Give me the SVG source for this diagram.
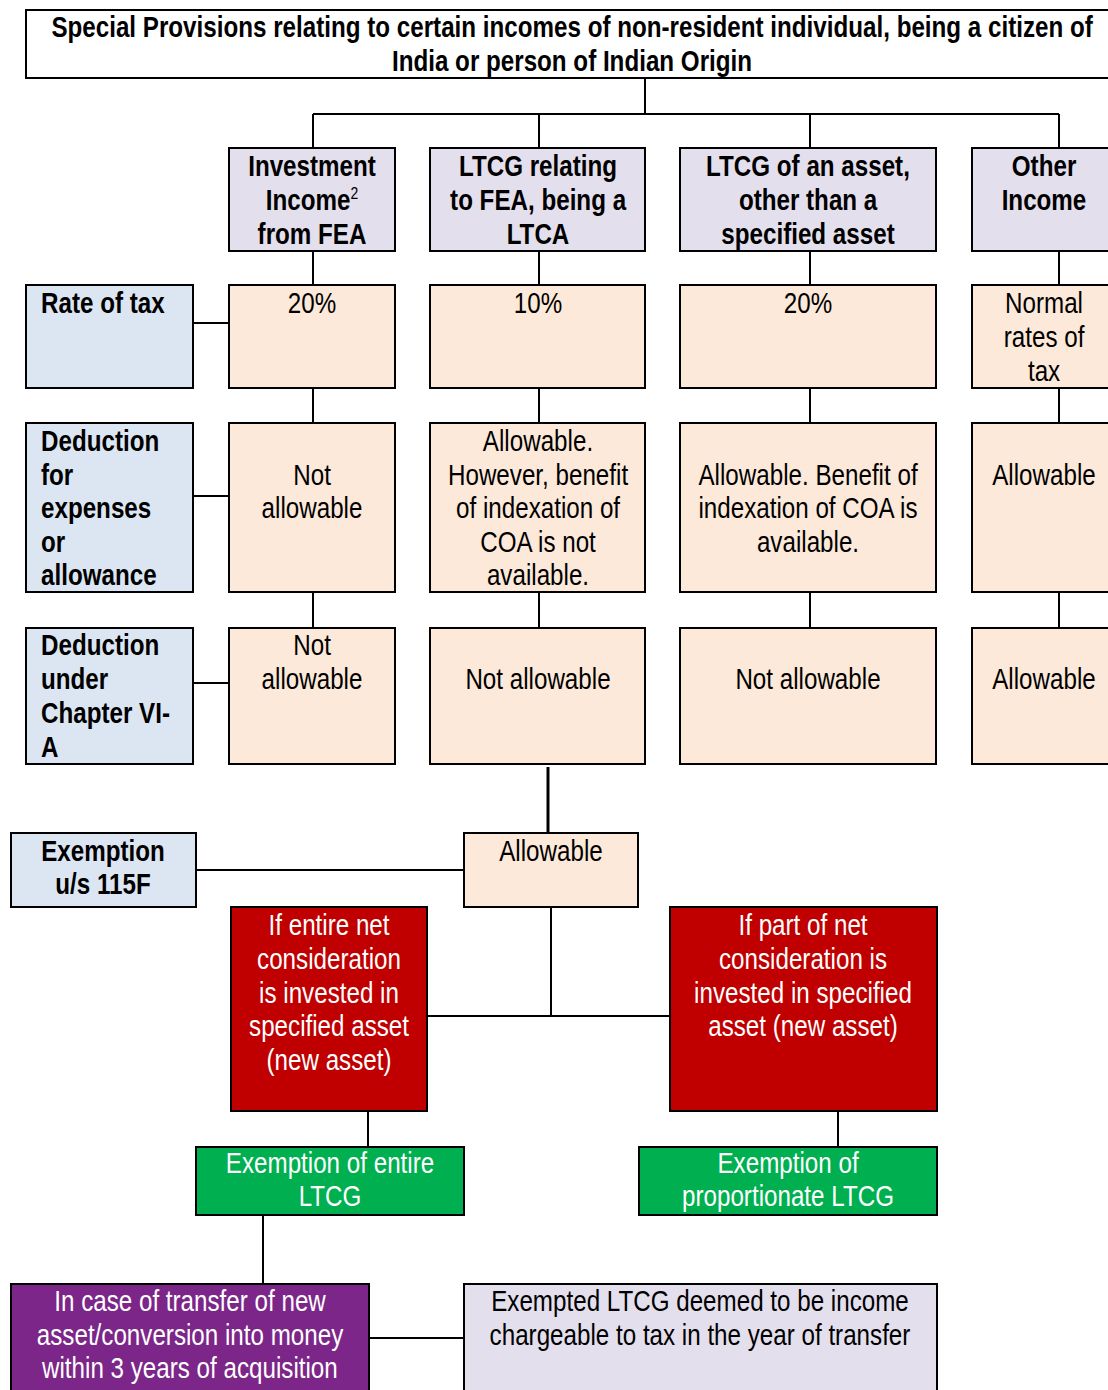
<svg xmlns="http://www.w3.org/2000/svg" width="1108" height="1390" viewBox="0 0 1108 1390">
  <style>
    /* narrow sans: Liberation Sans squeezed horizontally */
    .t { font-family: "Liberation Sans", Arial, sans-serif; font-size: 29.5px; fill: #000;
         transform: scaleX(0.82); transform-box: fill-box; transform-origin: left center; }
    .b { font-weight: bold; }
    .c { text-anchor: middle; transform-origin: center center; }
    .w { fill: #fff; }
    .box { stroke: #000; stroke-width: 2; }
    .hdr { fill: #E4DFEC; }
    .lbl { fill: #DCE6F2; }
    .val { fill: #FDE9D9; }
    .red { fill: #C00000; }
    .grn { fill: #00B050; }
    .pur { fill: #7B2688; }
    .wht { fill: #fff; }
    .ln { stroke: #000; stroke-width: 2; fill: none; }
  </style>

  <!-- connectors -->
  <g id="connectors">
    <path class="ln" d="M645 78V114M313 114H1059M313 114V148M539 114V148M810 114V148M1059 114V148"/>
    <path class="ln" d="M313 251V285M539 251V285M810 251V285M1059 251V285"/>
    <path class="ln" d="M313 388V423M539 388V423M810 388V423M1059 388V423"/>
    <path class="ln" d="M313 592V628M539 592V628M810 592V628M1059 592V628"/>
    <path class="ln" d="M193 323H229M193 496H229M193 683H229"/>
    <path class="ln" d="M548 767V833" style="stroke-width:3"/>
    <path class="ln" d="M196 870H464"/>
    <path class="ln" d="M551 907V1016M427 1016H670"/>
    <path class="ln" d="M368 1111V1147M838 1111V1147"/>
    <path class="ln" d="M263 1215V1284"/>
    <path class="ln" d="M369 1338H464"/>
  </g>

  <!-- title -->
  <g id="title">
    <rect class="box wht" x="26" y="10" width="1090" height="68"/>
    <text class="t b c" x="572" y="37">Special Provisions relating to certain incomes of non-resident individual, being a citizen of</text>
    <text class="t b c" x="572" y="71">India or person of Indian Origin</text>
  </g>

  <!-- income heads -->
  <g id="head-investment">
    <rect class="box hdr" x="229" y="148" width="166" height="103"/>
    <text class="t b c" x="312" y="176">Investment</text>
    <text class="t b c" x="312" y="210">Income<tspan style="font-weight:normal;font-size:17px" dy="-11">2</tspan></text>
    <text class="t b c" x="312" y="244">from FEA</text>
  </g>
  <g id="head-ltcg-fea">
    <rect class="box hdr" x="430" y="148" width="215" height="103"/>
    <text class="t b c" x="538" y="176">LTCG relating</text>
    <text class="t b c" x="538" y="210">to FEA, being a</text>
    <text class="t b c" x="538" y="244">LTCA</text>
  </g>
  <g id="head-ltcg-other">
    <rect class="box hdr" x="680" y="148" width="256" height="103"/>
    <text class="t b c" x="808" y="176">LTCG of an asset,</text>
    <text class="t b c" x="808" y="210">other than a</text>
    <text class="t b c" x="808" y="244">specified asset</text>
  </g>
  <g id="head-other">
    <rect class="box hdr" x="972" y="148" width="150" height="103"/>
    <text class="t b c" x="1044" y="176">Other</text>
    <text class="t b c" x="1044" y="210">Income</text>
  </g>

  <!-- row labels -->
  <g id="label-rate">
    <rect class="box lbl" x="26" y="285" width="167" height="103"/>
    <text class="t b" x="41" y="313">Rate of tax</text>
  </g>
  <g id="label-expenses">
    <rect class="box lbl" x="26" y="423" width="167" height="169"/>
    <text class="t b" x="41" y="451">Deduction</text>
    <text class="t b" x="41" y="485">for</text>
    <text class="t b" x="41" y="518">expenses</text>
    <text class="t b" x="41" y="552">or</text>
    <text class="t b" x="41" y="585">allowance</text>
  </g>
  <g id="label-via">
    <rect class="box lbl" x="26" y="628" width="167" height="136"/>
    <text class="t b" x="41" y="655">Deduction</text>
    <text class="t b" x="41" y="689">under</text>
    <text class="t b" x="41" y="723">Chapter VI-</text>
    <text class="t b" x="41" y="757">A</text>
  </g>

  <!-- rate of tax -->
  <g id="rate-investment">
    <rect class="box val" x="229" y="285" width="166" height="103"/>
    <text class="t c" x="312" y="313">20%</text>
  </g>
  <g id="rate-ltcg-fea">
    <rect class="box val" x="430" y="285" width="215" height="103"/>
    <text class="t c" x="538" y="313">10%</text>
  </g>
  <g id="rate-ltcg-other">
    <rect class="box val" x="680" y="285" width="256" height="103"/>
    <text class="t c" x="808" y="313">20%</text>
  </g>
  <g id="rate-other">
    <rect class="box val" x="972" y="285" width="150" height="103"/>
    <text class="t c" x="1044" y="313">Normal</text>
    <text class="t c" x="1044" y="347">rates of</text>
    <text class="t c" x="1044" y="381">tax</text>
  </g>

  <!-- deduction for expenses -->
  <g id="exp-investment">
    <rect class="box val" x="229" y="423" width="166" height="169"/>
    <text class="t c" x="312" y="485">Not</text>
    <text class="t c" x="312" y="518">allowable</text>
  </g>
  <g id="exp-ltcg-fea">
    <rect class="box val" x="430" y="423" width="215" height="169"/>
    <text class="t c" x="538" y="451">Allowable.</text>
    <text class="t c" x="538" y="485">However, benefit</text>
    <text class="t c" x="538" y="518">of indexation of</text>
    <text class="t c" x="538" y="552">COA is not</text>
    <text class="t c" x="538" y="585">available.</text>
  </g>
  <g id="exp-ltcg-other">
    <rect class="box val" x="680" y="423" width="256" height="169"/>
    <text class="t c" x="808" y="485">Allowable. Benefit of</text>
    <text class="t c" x="808" y="518">indexation of COA is</text>
    <text class="t c" x="808" y="552">available.</text>
  </g>
  <g id="exp-other">
    <rect class="box val" x="972" y="423" width="150" height="169"/>
    <text class="t c" x="1044" y="485">Allowable</text>
  </g>

  <!-- deduction under chapter VI-A -->
  <g id="via-investment">
    <rect class="box val" x="229" y="628" width="166" height="136"/>
    <text class="t c" x="312" y="655">Not</text>
    <text class="t c" x="312" y="689">allowable</text>
  </g>
  <g id="via-ltcg-fea">
    <rect class="box val" x="430" y="628" width="215" height="136"/>
    <text class="t c" x="538" y="689">Not allowable</text>
  </g>
  <g id="via-ltcg-other">
    <rect class="box val" x="680" y="628" width="256" height="136"/>
    <text class="t c" x="808" y="689">Not allowable</text>
  </g>
  <g id="via-other">
    <rect class="box val" x="972" y="628" width="150" height="136"/>
    <text class="t c" x="1044" y="689">Allowable</text>
  </g>

  <!-- exemption u/s 115F -->
  <g id="label-115f">
    <rect class="box lbl" x="11" y="833" width="185" height="74"/>
    <text class="t b c" x="103" y="861">Exemption</text>
    <text class="t b c" x="103" y="894">u/s 115F</text>
  </g>
  <g id="exemption-allowable">
    <rect class="box val" x="464" y="833" width="174" height="74"/>
    <text class="t c" x="551" y="861">Allowable</text>
  </g>

  <g id="entire-invested">
    <rect class="box red" x="231" y="907" width="196" height="204"/>
    <text class="t c w" x="329" y="935">If entire net</text>
    <text class="t c w" x="329" y="969">consideration</text>
    <text class="t c w" x="329" y="1003">is invested in</text>
    <text class="t c w" x="329" y="1036">specified asset</text>
    <text class="t c w" x="329" y="1070">(new asset)</text>
  </g>
  <g id="part-invested">
    <rect class="box red" x="670" y="907" width="267" height="204"/>
    <text class="t c w" x="803" y="935">If part of net</text>
    <text class="t c w" x="803" y="969">consideration is</text>
    <text class="t c w" x="803" y="1003">invested in specified</text>
    <text class="t c w" x="803" y="1036">asset (new asset)</text>
  </g>

  <g id="exempt-entire">
    <rect class="box grn" x="196" y="1147" width="268" height="68"/>
    <text class="t c w" x="330" y="1173">Exemption of entire</text>
    <text class="t c w" x="330" y="1206">LTCG</text>
  </g>
  <g id="exempt-proportionate">
    <rect class="box grn" x="639" y="1147" width="298" height="68"/>
    <text class="t c w" x="788" y="1173">Exemption of</text>
    <text class="t c w" x="788" y="1206">proportionate LTCG</text>
  </g>

  <g id="transfer-within-3-years">
    <rect class="box pur" x="11" y="1284" width="358" height="120"/>
    <text class="t c w" x="190" y="1311">In case of transfer of new</text>
    <text class="t c w" x="190" y="1345">asset/conversion into money</text>
    <text class="t c w" x="190" y="1378">within 3 years of acquisition</text>
  </g>
  <g id="deemed-income">
    <rect class="box hdr" x="464" y="1284" width="473" height="120"/>
    <text class="t c" x="700" y="1311">Exempted LTCG deemed to be income</text>
    <text class="t c" x="700" y="1345">chargeable to tax in the year of transfer</text>
  </g>
</svg>
